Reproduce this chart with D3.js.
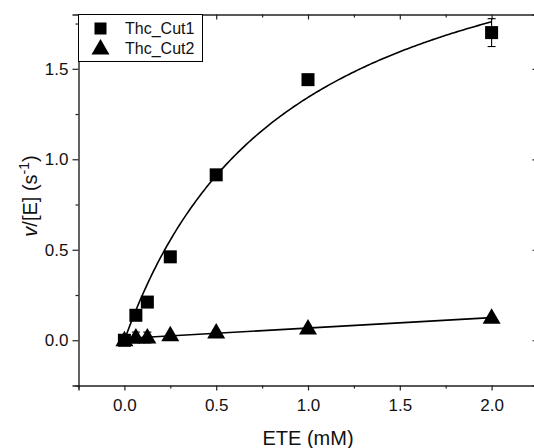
<!DOCTYPE html>
<html>
<head>
<meta charset="utf-8">
<script src="https://cdn.jsdelivr.net/npm/d3@7"></script>
<style>
  html, body { margin: 0; padding: 0; background: #fff; }
  svg { display: block; font-family: Arial, "Liberation Sans", sans-serif; }
</style>
</head>
<body>
<svg id="chart" width="534" height="448"></svg>
<script>
// Substrate concentrations (mM)
const substrate = [0, 0.0625, 0.125, 0.25, 0.5, 1.0, 2.0];
// Turnover v/[E] (s^-1) for each construct
const cut1Rate = [0.0, 0.138, 0.211, 0.461, 0.914, 1.44, 1.70];
const cut1Err  = [0, 0, 0, 0, 0, 0, 0.077];
const cut2Rate = [0.0, 0.015, 0.015, 0.027, 0.043, 0.065, 0.125];
const cut2Err  = [0, 0.03, 0.03, 0, 0, 0, 0];
// Michaelis–Menten fit for Thc_Cut1, linear fit for Thc_Cut2
const cut1Vmax = 2.555, cut1Km = 0.904;
const cut2Slope = 0.0575, cut2Intercept = 0.01;
const seriesNames = ["Thc_Cut1", "Thc_Cut2"];
const xTicks = [0, 0.5, 1.0, 1.5, 2.0];
const xMinor = [-0.25, 0.25, 0.75, 1.25, 1.75, 2.25];
const yTicks = [0, 0.5, 1.0, 1.5];
const yMinor = [-0.25, 0.25, 0.75, 1.25, 1.75];

const svg = d3.select("#chart");
const L = 78.5, R = 537.5, T = 14.5, B = 385.5;

const x = d3.scaleLinear().domain([-0.25, 2.25]).range([L, R]);
const y = d3.scaleLinear().domain([-0.25, 1.8]).range([B, T]);

const fmt = d3.format(".1f");
const axisColor = "#222";

function styleAxis(g) {
  g.selectAll("path.domain").attr("stroke", axisColor).attr("stroke-width", 1.4);
  g.selectAll("line").attr("stroke", axisColor).attr("stroke-width", 1.2);
  g.selectAll("text").attr("fill", "#111").style("font-size", "17px");
}

// Bottom axis: outward majors + minors
const gB = svg.append("g").attr("transform", `translate(0,${B})`)
  .call(d3.axisBottom(x).tickValues(xTicks).tickSize(5).tickPadding(8).tickFormat(fmt));
styleAxis(gB);
svg.append("g").attr("transform", `translate(0,${B})`)
  .call(d3.axisBottom(x).tickValues(xMinor).tickSize(3).tickFormat(""))
  .call(g => { g.select(".domain").remove(); styleAxis(g); });

// Left axis
const gL = svg.append("g").attr("transform", `translate(${L},0)`)
  .call(d3.axisLeft(y).tickValues(yTicks).tickSize(6).tickPadding(4).tickFormat(fmt));
styleAxis(gL);
svg.append("g").attr("transform", `translate(${L},0)`)
  .call(d3.axisLeft(y).tickValues(yMinor).tickSize(3).tickFormat(""))
  .call(g => { g.select(".domain").remove(); styleAxis(g); });

// Top axis: inward ticks, no labels
const gT = svg.append("g").attr("transform", `translate(0,${T})`)
  .call(d3.axisTop(x).tickValues(xTicks).tickSize(-5).tickFormat(""));
styleAxis(gT);
svg.append("g").attr("transform", `translate(0,${T})`)
  .call(d3.axisTop(x).tickValues(xMinor).tickSize(-3).tickFormat(""))
  .call(g => { g.select(".domain").remove(); styleAxis(g); });

// Right axis: inward ticks, no labels
const gR = svg.append("g").attr("transform", `translate(${R},0)`)
  .call(d3.axisRight(y).tickValues(yTicks).tickSize(-5).tickFormat(""));
styleAxis(gR);
svg.append("g").attr("transform", `translate(${R},0)`)
  .call(d3.axisRight(y).tickValues(yMinor).tickSize(-3).tickFormat(""))
  .call(g => { g.select(".domain").remove(); styleAxis(g); });

// Fit curves
const fitX = d3.range(0, 2.0001, 0.01);
const line = d3.line().x(d => x(d[0])).y(d => y(d[1]));
svg.append("path")
  .datum(fitX.map(s => [s, cut1Vmax * s / (cut1Km + s)]))
  .attr("d", line).attr("fill", "none").attr("stroke", "#000").attr("stroke-width", 1.6);
svg.append("path")
  .datum([0, 2.0].map(s => [s, cut2Intercept + cut2Slope * s]))
  .attr("d", line).attr("fill", "none").attr("stroke", "#000").attr("stroke-width", 1.6);

// Error bars
function errorBars(vals, errs) {
  const data = substrate.map((s, i) => ({ s, v: vals[i], e: errs[i] })).filter(d => d.e > 0);
  const g = svg.append("g").attr("stroke", "#000").attr("stroke-width", 1.1);
  g.selectAll("line.stem").data(data).join("line")
    .attr("x1", d => x(d.s)).attr("x2", d => x(d.s))
    .attr("y1", d => y(d.v - d.e)).attr("y2", d => y(d.v + d.e));
  g.selectAll("line.capTop").data(data).join("line")
    .attr("x1", d => x(d.s) - 4).attr("x2", d => x(d.s) + 4)
    .attr("y1", d => y(d.v + d.e)).attr("y2", d => y(d.v + d.e));
  g.selectAll("line.capBot").data(data).join("line")
    .attr("x1", d => x(d.s) - 4).attr("x2", d => x(d.s) + 4)
    .attr("y1", d => y(d.v - d.e)).attr("y2", d => y(d.v - d.e));
}
errorBars(cut1Rate, cut1Err);
errorBars(cut2Rate, cut2Err);

// Markers
const sq = 13;
const triPath = "M0,-9.5L9,6L-9,6Z";
svg.append("g").selectAll("rect").data(substrate.map((s, i) => [s, cut1Rate[i]])).join("rect")
  .attr("x", d => x(d[0]) - sq / 2).attr("y", d => y(d[1]) - sq / 2)
  .attr("width", sq).attr("height", sq).attr("fill", "#000");
svg.append("g").selectAll("path").data(substrate.map((s, i) => [s, cut2Rate[i]])).join("path")
  .attr("d", triPath)
  .attr("transform", d => `translate(${x(d[0])},${y(d[1])})`)
  .attr("fill", "#000");

// Legend
const lg = svg.append("g");
lg.append("rect").attr("x", L).attr("y", T).attr("width", 124).attr("height", 47)
  .attr("fill", "#fff").attr("stroke", "#000").attr("stroke-width", 1);
lg.append("rect").attr("x", 100.5 - 6).attr("y", 28.5 - 6).attr("width", 12).attr("height", 12).attr("fill", "#000");
lg.append("path").attr("d", triPath).attr("transform", "translate(100.5,48.5)").attr("fill", "#000");
lg.selectAll("text").data(seriesNames).join("text")
  .attr("x", 125).attr("y", (d, i) => 34 + i * 19.5)
  .style("font-size", "16px").attr("fill", "#111").text(d => d);

// Axis titles
svg.append("text").attr("x", (L + 537.5) / 2 - 0).attr("y", 445)
  .attr("text-anchor", "middle").style("font-size", "20px").attr("fill", "#111").text("ETE (mM)");

const yt = svg.append("text").attr("transform", "translate(37,196) rotate(-90)")
  .attr("text-anchor", "middle").style("font-size", "20px").attr("fill", "#111");
yt.append("tspan").style("font-style", "italic").text("v");
yt.append("tspan").text("/[E] (s");
yt.append("tspan").attr("dy", -8).style("font-size", "14px").text("-1");
yt.append("tspan").attr("dy", 8).text(")");
</script>
</body>
</html>
